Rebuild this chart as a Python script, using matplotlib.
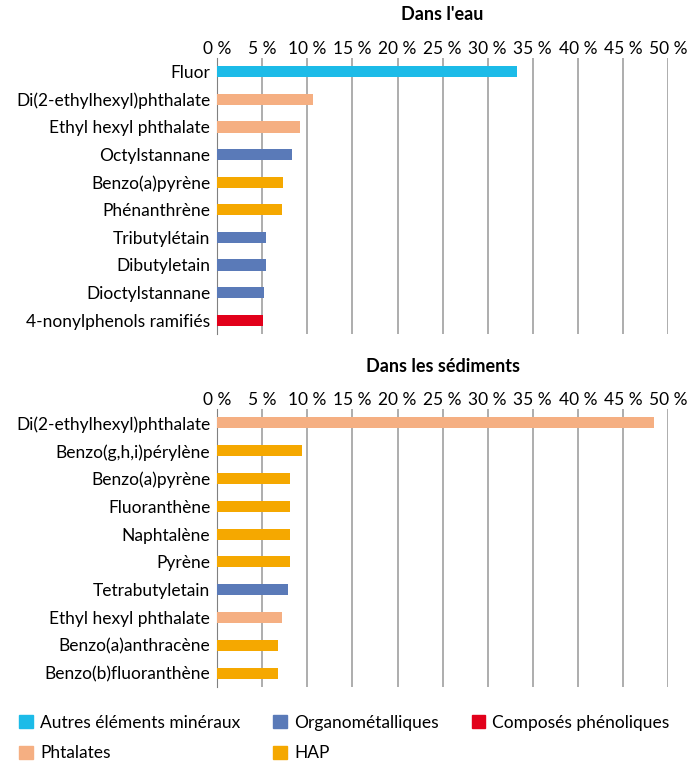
import matplotlib.pyplot as plt
from matplotlib.patches import Patch

plt.rcParams['font.family'] = ['Lato', 'DejaVu Sans']

# Dans l'eau
eau_labels = ["Fluor", "Di(2-ethylhexyl)phthalate", "Ethyl hexyl phthalate", "Octylstannane",
              "Benzo(a)pyrène", "Phénanthrène", "Tributylétain", "Dibutyletain",
              "Dioctylstannane", "4-nonylphenols ramifiés"]
eau_values = [33.2, 10.6, 9.2, 8.3, 7.3, 7.2, 5.4, 5.4, 5.2, 5.1]
eau_groups = ["Autres", "Phtalates", "Phtalates", "Organo", "HAP", "HAP",
              "Organo", "Organo", "Organo", "Phenol"]

# Dans les sédiments
sed_labels = ["Di(2-ethylhexyl)phthalate", "Benzo(g,h,i)pérylène", "Benzo(a)pyrène",
              "Fluoranthène", "Naphtalène", "Pyrène", "Tetrabutyletain",
              "Ethyl hexyl phthalate", "Benzo(a)anthracène", "Benzo(b)fluoranthène"]
sed_values = [48.5, 9.4, 8.1, 8.1, 8.1, 8.1, 7.9, 7.2, 6.7, 6.7]
sed_groups = ["Phtalates", "HAP", "HAP", "HAP", "HAP", "HAP", "Organo",
              "Phtalates", "HAP", "HAP"]

couleurs = {"Autres": "#1CBBE8", "Organo": "#5A7AB8", "Phenol": "#E2001A",
            "Phtalates": "#F5AF82", "HAP": "#F5A800"}
legende = [("Autres", "Autres éléments minéraux"), ("Phtalates", "Phtalates"),
           ("Organo", "Organométalliques"), ("HAP", "HAP"),
           ("Phenol", "Composés phénoliques")]
ticks = list(range(0, 55, 5))

fig = plt.figure(figsize=(6.94, 7.61), dpi=100)
ax1 = fig.add_axes([0.3131, 0.5611, 0.6494, 0.3627])
ax2 = fig.add_axes([0.3131, 0.0972, 0.6494, 0.3653])


def dessine(ax, labels, values, groups, titre):
    y = range(len(labels))
    ax.barh(y, values, height=0.4, color=[couleurs[g] for g in groups], zorder=3)
    ax.set_xlim(0, 50)
    ax.set_ylim(len(labels) - 0.5, -0.5)
    ax.set_yticks(list(y))
    ax.set_yticklabels(labels, fontsize=12.5)
    ax.set_xticks(ticks)
    ax.set_xticklabels([f"{t} %" for t in ticks], fontsize=12.5)
    ax.xaxis.tick_top()
    ax.tick_params(axis='y', length=0, pad=5)
    ax.tick_params(axis='x', length=0, pad=1)
    ax.grid(axis='x', color='#a0a0a0', linewidth=1.2, zorder=0)
    for s in ['top', 'right', 'bottom']:
        ax.spines[s].set_visible(False)
    ax.spines['left'].set_color('#808080')
    ax.set_title(titre, fontsize=13, fontweight='bold', pad=27)


dessine(ax1, eau_labels, eau_values, eau_groups, "Dans l'eau")
dessine(ax2, sed_labels, sed_values, sed_groups, "Dans les sédiments")

handles = [Patch(color=couleurs[k]) for k, _ in legende]
fig.legend(handles, [t for _, t in legende], ncol=3, loc='lower left',
           bbox_to_anchor=(0.005, -0.021), frameon=False, fontsize=12.5,
           handlelength=0.8, handleheight=0.8, handletextpad=0.4,
           columnspacing=1.9, labelspacing=0.85)

fig.savefig("out.png", dpi=100)
